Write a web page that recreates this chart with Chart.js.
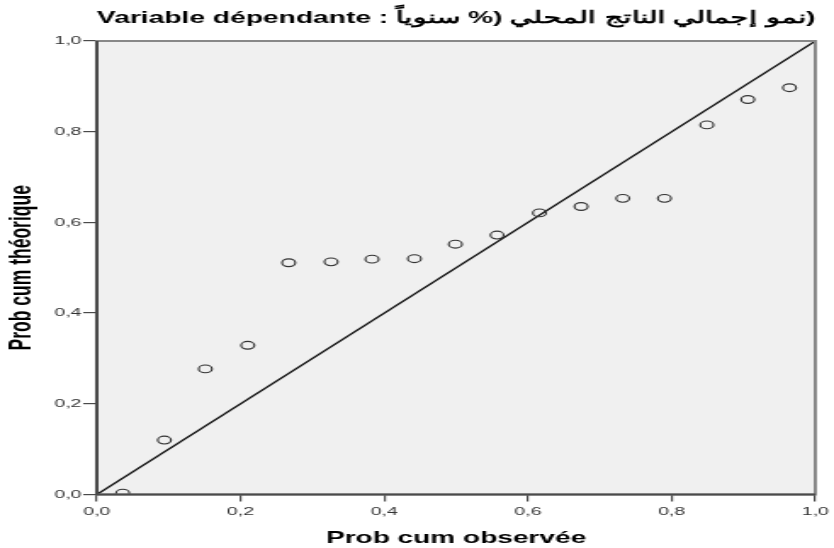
<!DOCTYPE html>
<html>
<head>
<meta charset="utf-8">
<script src="https://cdn.jsdelivr.net/npm/chart.js@4"></script>
<style>
html,body{margin:0;padding:0;background:#fff;overflow:hidden}
#wrap{width:834px;height:548px;overflow:hidden}
/* l'original est étiré horizontalement : on dessine étroit puis on étire */
#graf{display:block;transform:scaleX(1.6986);transform-origin:0 0}
</style>
</head>
<body>
<div id="wrap"><canvas id="graf" width="491" height="548"></canvas></div>
<script>
// P-P plot : prob cum observée vs théorique
const probObservee = [0.036, 0.094, 0.151, 0.210, 0.267, 0.326, 0.383, 0.442, 0.499, 0.557, 0.616, 0.674, 0.732, 0.790, 0.849, 0.906, 0.964];
const probTheorique = [0.003, 0.120, 0.277, 0.329, 0.511, 0.513, 0.519, 0.520, 0.552, 0.572, 0.621, 0.635, 0.653, 0.653, 0.815, 0.871, 0.897];
const diagX = [0, 1];
const diagY = [0, 1];
const valeursTicks = [0, 0.2, 0.4, 0.6, 0.8, 1.0];
const libellesTicks = ['0,0', '0,2', '0,4', '0,6', '0,8', '1,0'];

// la parenthèse finale reste à droite comme dans la sortie SPSS
const titre = 'Variable dépendante : \u2067نمو إجمالي الناتج المحلي (% سنوياً\u2069)';

const police = 'Liberation Sans, Arial, sans-serif';

const fondCadre = {
  id: 'fondCadre',
  beforeDatasetsDraw(chart) {
    const { ctx, chartArea: a } = chart;
    ctx.save();
    ctx.fillStyle = '#f0f0f0';
    ctx.fillRect(a.left, a.top, a.right - a.left, a.bottom - a.top);
    ctx.restore();
  },
  afterDatasetsDraw(chart) {
    const { ctx, chartArea: a } = chart;
    ctx.save();
    ctx.strokeStyle = '#888';
    ctx.lineWidth = 2;
    ctx.strokeRect(a.left, a.top, a.right - a.left, a.bottom - a.top);
    ctx.strokeStyle = '#4a4a4a';
    ctx.beginPath();
    ctx.moveTo(a.left, a.top);
    ctx.lineTo(a.left, a.bottom);
    ctx.lineTo(a.right, a.bottom);
    ctx.stroke();
    ctx.restore();
  }
};

const poser = (scale) => { scale.ticks = valeursTicks.map(v => ({ value: v })); };
const texteTick = (v, i) => libellesTicks[i];

new Chart(document.getElementById('graf'), {
  type: 'scatter',
  data: {
    datasets: [
      {
        data: probObservee.map((x, i) => ({ x: x, y: probTheorique[i] })),
        pointStyle: 'circle',
        pointRadius: 3.9,
        borderColor: '#333',
        borderWidth: 1.15,
        backgroundColor: 'rgba(0,0,0,0)',
        order: 0
      },
      {
        type: 'line',
        data: diagX.map((x, i) => ({ x: x, y: diagY[i] })),
        borderColor: '#111',
        borderWidth: 1.3,
        pointRadius: 0,
        order: 1
      }
    ]
  },
  options: {
    responsive: false,
    animation: false,
    layout: { padding: { left: 0, right: 8, top: 0, bottom: 0 } },
    plugins: {
      legend: { display: false },
      tooltip: { enabled: false },
      title: {
        display: true,
        text: titre,
        fullSize: false,
        color: '#000',
        font: { family: police, size: 16.7, weight: 'bold', lineHeight: 1 },
        padding: { top: 10, bottom: 14.3 }
      }
    },
    scales: {
      x: {
        type: 'linear', min: 0, max: 1,
        afterBuildTicks: poser,
        afterFit: (s) => { s.height = 53.5; },
        grid: { drawOnChartArea: false, drawTicks: true, tickLength: 7, color: '#4a4a4a', lineWidth: 1.2 },
        border: { display: false },
        ticks: { callback: texteTick, color: '#333', padding: 3, maxRotation: 0,
                 font: { family: police, size: 11.5 } },
        title: { display: true, text: 'Prob cum observée', color: '#000',
                 font: { family: police, size: 16.5, weight: 'bold', lineHeight: 1 },
                 padding: { top: 4, bottom: 1 } }
      },
      y: {
        type: 'linear', min: 0, max: 1,
        afterBuildTicks: poser,
        afterFit: (s) => { s.width = 57; },
        grid: { drawOnChartArea: false, drawTicks: true, tickLength: 8, color: '#4a4a4a', lineWidth: 1.2 },
        border: { display: false },
        ticks: { callback: texteTick, color: '#333', padding: 1,
                 font: { family: police, size: 11.5 } },
        title: { display: true, text: 'Prob cum théorique', color: '#000',
                 font: { family: police, size: 17.5, weight: 'bold', lineHeight: 1 },
                 padding: { top: 4, bottom: 2 } }
      }
    }
  },
  plugins: [fondCadre]
});
</script>
</body>
</html>
